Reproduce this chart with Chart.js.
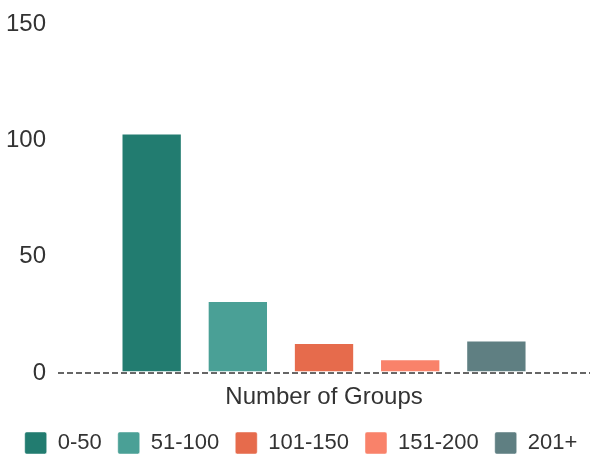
<!DOCTYPE html>
<html>
<head>
<meta charset="utf-8">
<script src="https://cdn.jsdelivr.net/npm/chart.js@4/dist/chart.umd.min.js"></script>
<style>
  html, body { margin: 0; padding: 0; background: #fff; }
  #wrap { width: 594px; height: 458px; }
</style>
</head>
<body>
<div id="wrap"><canvas id="grafico-grupos"></canvas></div>
<script>
// faixas de tamanho e numero de grupos
const faixas = ['0-50', '51-100', '101-150', '151-200', '201+'];
const grupos = [103, 31, 13, 6, 14];
const cores = ['#227c70', '#4aa096', '#e66b4c', '#f9826a', '#5f7f82'];
const yTicks = [0, 50, 100, 150];

const fonte = "'Liberation Sans', Arial, sans-serif";

// empurra a legenda um pouco para a direita, como no original
const deslocaLegenda = {
    id: 'deslocaLegenda',
    afterLayout(chart) {
        chart.legend.left += 9;
        chart.legend.right += 9;
    }
};

document.addEventListener('DOMContentLoaded', () => {
    const ctx = document.getElementById('grafico-grupos').getContext('2d');
    new Chart(ctx, {
        type: 'bar',
        data: {
            labels: [''],
            datasets: faixas.map((f, i) => ({
                label: f,
                data: [grupos[i]],
                backgroundColor: cores[i],
                borderColor: 'rgba(255,255,255,0.45)',
                borderWidth: 1,
                borderSkipped: false
            }))
        },
        options: {
            responsive: true,
            maintainAspectRatio: false,
            animation: false,
            layout: { padding: { top: 0, right: 4, left: -6, bottom: -6 } },
            datasets: { bar: { barPercentage: 0.7, categoryPercentage: 0.81 } },
            plugins: {
                tooltip: { enabled: false },
                legend: {
                    position: 'bottom',
                    labels: {
                        color: '#333',
                        font: { family: fonte, size: 22 },
                        boxWidth: 22,
                        boxHeight: 22,
                        padding: 16,
                        useBorderRadius: true,
                        borderRadius: 2
                    }
                }
            },
            scales: {
                x: {
                    grid: { display: false, drawTicks: false },
                    border: { display: false },
                    ticks: { display: false },
                    title: {
                        display: true,
                        text: 'Number of Groups',
                        color: '#333',
                        font: { family: fonte, size: 24 },
                        padding: { top: 10, bottom: 4 }
                    }
                },
                y: {
                    min: 0,
                    max: 150,
                    afterBuildTicks: (axis) => { axis.ticks = yTicks.map(v => ({ value: v })); },
                    grid: {
                        drawTicks: false,
                        lineWidth: 2,
                        color: (c) => (c.tick && c.tick.value === 0 ? '#666' : 'rgba(0,0,0,0)')
                    },
                    border: { display: false, dash: [6, 3] },
                    ticks: {
                        color: '#333',
                        padding: 12,
                        font: { family: fonte, size: 24, lineHeight: 1 }
                    }
                }
            }
        },
        plugins: [deslocaLegenda]
    });
});
</script>
</body>
</html>
